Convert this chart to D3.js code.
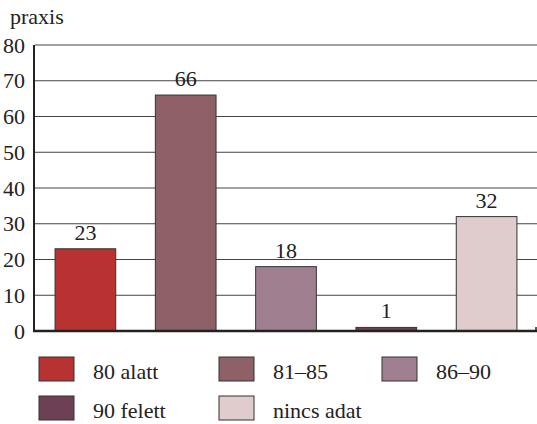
<!DOCTYPE html>
<html><head><meta charset="utf-8">
<script src="https://cdn.jsdelivr.net/npm/d3@7"></script>
<style>body{margin:0;background:#fff}</style>
</head><body><div id="chart"></div>
<script>
const categories = ["80 alatt", "81–85", "86–90", "90 felett", "nincs adat"];
const values = [23, 66, 18, 1, 32];
const colors = ["#b83232", "#8e6068", "#a08090", "#6e4055", "#e0cccc"];
const yTicks = [0, 10, 20, 30, 40, 50, 60, 70, 80];
const yTitle = "praxis";

const W = 537, H = 424;
const svg = d3.select("#chart").append("svg").attr("width", W).attr("height", H);
const x = d3.scaleBand().domain(categories).range([35, 537]).paddingInner(0.395).paddingOuter(0.2);
const y = d3.scaleLinear().domain([0, 80]).range([331, 45]);

function serif(sel) {
  return sel.style("font-family", () => "'Liberation Serif'").style("font-size", "22px").attr("fill", "#222");
}

// gridlines
svg.append("g").selectAll("line").data(yTicks.filter(d => d > 0)).join("line")
  .attr("x1", 35).attr("x2", 537).attr("y1", d => y(d)).attr("y2", d => y(d))
  .attr("stroke", "#444").attr("stroke-width", 1);

// y axis labels (D3 axis, ticks hidden; labels restyled)
const gy = svg.append("g").attr("transform", "translate(34,0)")
  .call(d3.axisLeft(y).tickValues(yTicks).tickSize(0).tickPadding(9).tickFormat(d3.format("d")));
gy.select(".domain").remove();
serif(gy.selectAll("text"));

// bars
svg.append("g").selectAll("rect").data(values).join("rect")
  .attr("x", (d, i) => x(categories[i])).attr("width", x.bandwidth())
  .attr("y", d => y(d)).attr("height", d => y(0) - y(d))
  .attr("fill", (d, i) => colors[i]).attr("stroke", "#333").attr("stroke-width", 1);

// value labels
serif(svg.selectAll("text.val").data(values).join("text").attr("class", "val")
  .attr("x", (d, i) => x(categories[i]) + x.bandwidth() / 2)
  .attr("y", d => y(d) - 9).attr("text-anchor", "middle")
  .text(d => d));

// axis lines
svg.append("line").attr("x1", 34).attr("x2", 34).attr("y1", y(80)).attr("y2", y(0) + 1)
  .attr("stroke", "#222").attr("stroke-width", 2);
svg.append("line").attr("x1", 33).attr("x2", 537).attr("y1", y(0)).attr("y2", y(0))
  .attr("stroke", "#222").attr("stroke-width", 2.5);
svg.append("line").attr("x1", 536).attr("x2", 536).attr("y1", y(0) - 4).attr("y2", y(0))
  .attr("stroke", "#222").attr("stroke-width", 1.5);

// y title
serif(svg.selectAll("text.ttl").data([yTitle]).join("text").attr("class", "ttl")
  .attr("x", 10).attr("y", 24).text(d => d));

// legend
const legendX = [39, 219, 382];
const legendY = [357, 396];
const lg = svg.append("g").selectAll("g").data(categories).join("g")
  .attr("transform", (d, i) => `translate(${legendX[i % 3]},${legendY[Math.floor(i / 3)]})`);
lg.append("rect").attr("width", 35).attr("height", 24)
  .attr("fill", (d, i) => colors[i]).attr("stroke", "#333").attr("stroke-width", 1);
serif(lg.append("text").attr("x", 54).attr("y", 22).text(d => d));
</script></body></html>
